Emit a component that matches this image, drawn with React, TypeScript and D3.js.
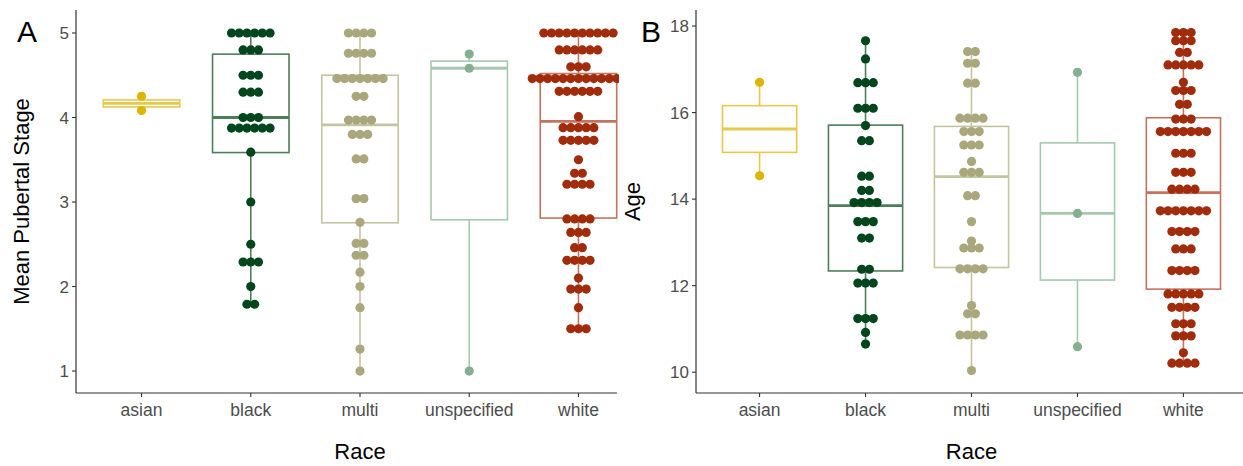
import React from "react";
import * as d3 from "d3";

// ---------- data ----------
const categories = ["asian", "black", "multi", "unspecified", "white"];

// Panel A: Mean Pubertal Stage (box statistics)
const stageLower = [4.083, 1.79, 1.0, 1.0, 1.5];
const stageQ1 = [4.125, 3.585, 2.754, 2.79, 2.81];
const stageMedian = [4.167, 4.0, 3.912, 4.583, 3.955];
const stageQ3 = [4.208, 4.75, 4.5, 4.667, 4.52];
const stageUpper = [4.25, 5.0, 5.0, 4.75, 5.0];

// Panel A: individual observations
const stageAsian = [4.25, 4.083];
const stageBlack = [
  5, 5, 5, 5, 5, 5, 4.8, 4.8, 4.8, 4.5, 4.5, 4.5, 4.3, 4.3, 4.3, 4.0, 4.0, 4.0,
  3.875, 3.875, 3.875, 3.875, 3.875, 3.875, 3.59, 3.0, 2.5, 2.29, 2.29, 2.29, 2.0, 1.79, 1.79,
];
const stageMulti = [
  5, 5, 5, 5, 4.76, 4.76, 4.76, 4.76, 4.46, 4.46, 4.46, 4.46, 4.46, 4.46, 4.46,
  4.25, 4.25, 3.97, 3.97, 3.97, 3.97, 3.8, 3.8, 3.8, 3.51, 3.51, 3.04, 3.04, 2.76,
  2.51, 2.51, 2.37, 2.37, 2.17, 2.0, 1.75, 1.26, 1.0,
];
const stageUnspecified = [4.75, 4.583, 1.0];
const stageWhite = [
  5, 5, 5, 5, 5, 5, 5, 5, 5, 5, 4.8, 4.8, 4.8, 4.8, 4.8, 4.8, 4.6, 4.6, 4.6,
  4.46, 4.46, 4.46, 4.46, 4.46, 4.46, 4.46, 4.46, 4.46, 4.46, 4.46, 4.46, 4.46,
  4.31, 4.31, 4.31, 4.31, 4.31, 4.31, 4.01, 3.88, 3.88, 3.88, 3.88, 3.88,
  3.73, 3.73, 3.73, 3.73, 3.73, 3.5, 3.34, 3.34, 3.21, 3.21, 3.21, 3.21,
  2.8, 2.8, 2.8, 2.8, 2.64, 2.64, 2.64, 2.46, 2.46, 2.31, 2.31, 2.31, 2.31,
  2.1, 1.97, 1.97, 1.97, 1.75, 1.5, 1.5, 1.5,
];

// Panel B: Age (box statistics)
const ageLower = [14.54, 10.63, 10.04, 10.59, 10.21];
const ageQ1 = [15.08, 12.34, 12.42, 12.13, 11.92];
const ageMedian = [15.62, 13.85, 14.52, 13.67, 14.15];
const ageQ3 = [16.16, 15.71, 15.68, 15.3, 15.88];
const ageUpper = [16.7, 17.67, 17.4, 16.93, 17.85];

// Panel B: individual observations
const ageAsian = [16.7, 14.54];
const ageBlack = [
  17.66, 17.24, 16.69, 16.69, 16.69, 16.1, 16.1, 16.1, 15.7, 15.35, 15.35,
  14.53, 14.53, 14.2, 14.2, 13.92, 13.92, 13.92, 13.92, 13.48, 13.48, 13.48,
  13.1, 13.1, 12.38, 12.38, 12.06, 12.06, 12.06, 11.24, 11.24, 11.24, 10.92, 10.65,
];
const ageMulti = [
  17.41, 17.41, 17.14, 17.14, 16.68, 16.68, 15.87, 15.87, 15.87, 15.87,
  15.56, 15.56, 15.56, 15.25, 15.25, 15.25, 14.87, 14.62, 14.62, 14.62,
  14.08, 14.08, 13.48, 13.03, 12.87, 12.87, 12.87, 12.39, 12.39, 12.39, 12.39,
  11.54, 11.35, 11.35, 10.86, 10.86, 10.86, 10.86, 10.04,
];
const ageUnspecified = [16.93, 13.67, 10.59];
const ageWhite = [
  17.85, 17.85, 17.85, 17.66, 17.66, 17.66, 17.39, 17.39, 17.1, 17.1, 17.1, 17.1, 17.1,
  16.7, 16.51, 16.51, 16.51, 16.19, 16.19, 15.85, 15.85, 15.85,
  15.56, 15.56, 15.56, 15.56, 15.56, 15.56, 15.56, 15.06, 15.06, 15.06,
  14.62, 14.62, 14.62, 14.23, 14.23, 14.23, 14.23,
  13.73, 13.73, 13.73, 13.73, 13.73, 13.73, 13.73, 13.25, 13.25, 13.25, 13.25,
  12.85, 12.85, 12.85, 12.35, 12.35, 12.35, 12.35, 11.81, 11.81, 11.81, 11.81, 11.81,
  11.5, 11.5, 11.5, 11.5, 11.12, 11.12, 11.12, 10.84, 10.84, 10.84, 10.45,
  10.21, 10.21, 10.21, 10.21,
];

const stageTicks = [1, 2, 3, 4, 5];
const ageTicks = [10, 12, 14, 16, 18];

// ---------- styles ----------
const dotColors = ["#DDB400", "#00461C", "#A9A77B", "#84AF91", "#A02C0C"];
const boxColors = ["#E8C84A", "#4F7D5C", "#C5C4A0", "#A6C8B0", "#C4735F"];
const FONT = "'Liberation Sans', Arial, sans-serif";

type PanelProps = {
  id: string;
  letter: string;
  letterX: number;
  axisX: number;
  axisRight: number;
  rangeRight: number;
  yDomain: [number, number];
  ticks: number[];
  yLabel: string;
  yLabelX: number;
  lower: number[];
  q1: number[];
  med: number[];
  q3: number[];
  upper: number[];
  dots: number[][];
  clipRight: number;
};

const TOP = 10;
const BOTTOM = 393;
const R = 4.6;
const STEP = 7.7;

function Panel(p: PanelProps) {
  const x = d3.scalePoint<string>().domain(categories).range([p.axisX, p.rangeRight]).padding(0.6);
  const y = d3.scaleLinear().domain(p.yDomain).range([BOTTOM, TOP]);
  const boxW = x.step() * 0.7;
  const clipId = `clip-${p.id}`;
  return (
    <g>
      <defs>
        <clipPath id={clipId}>
          <rect x={p.axisX} y={0} width={p.clipRight - p.axisX} height={BOTTOM} />
        </clipPath>
      </defs>
      <g clipPath={`url(#${clipId})`}>
        {categories.map((c, i) => {
          const cx = x(c)!;
          const col = boxColors[i];
          return (
            <g key={c}>
              <line x1={cx} x2={cx} y1={y(p.q3[i])} y2={y(p.upper[i])} stroke={col} strokeWidth={1.6} />
              <line x1={cx} x2={cx} y1={y(p.q1[i])} y2={y(p.lower[i])} stroke={col} strokeWidth={1.6} />
              <rect
                x={cx - boxW / 2}
                y={y(p.q3[i])}
                width={boxW}
                height={y(p.q1[i]) - y(p.q3[i])}
                fill="white"
                stroke={col}
                strokeWidth={1.6}
              />
              <line x1={cx - boxW / 2} x2={cx + boxW / 2} y1={y(p.med[i])} y2={y(p.med[i])} stroke={col} strokeWidth={2.8} />
            </g>
          );
        })}
        {categories.map((c, i) => {
          const cx = x(c)!;
          const groups = d3.groups(p.dots[i], (v) => v);
          return (
            <g key={c + "-dots"} fill={dotColors[i]}>
              {groups.flatMap(([v, arr]) =>
                arr.map((_, k) => (
                  <circle key={`${v}-${k}`} cx={cx + (k - (arr.length - 1) / 2) * STEP} cy={y(v)} r={R} />
                ))
              )}
            </g>
          );
        })}
      </g>
      {/* axes */}
      <line x1={p.axisX} x2={p.axisX} y1={TOP} y2={BOTTOM} stroke="#333" strokeWidth={1.2} />
      <line x1={p.axisX} x2={p.axisRight} y1={BOTTOM} y2={BOTTOM} stroke="#333" strokeWidth={1.2} />
      {p.ticks.map((t) => (
        <g key={t}>
          <line x1={p.axisX - 4} x2={p.axisX} y1={y(t)} y2={y(t)} stroke="#333" strokeWidth={1.1} />
          <text x={p.axisX - 7} y={y(t)} dy="0.36em" textAnchor="end" fontSize={17} fill="#4D4D4D" fontFamily={FONT}>
            {t}
          </text>
        </g>
      ))}
      {categories.map((c) => (
        <g key={c + "-tick"}>
          <line x1={x(c)} x2={x(c)} y1={BOTTOM} y2={BOTTOM + 4} stroke="#333" strokeWidth={1.1} />
          <text x={x(c)} y={416} textAnchor="middle" fontSize={17.5} fill="#4D4D4D" fontFamily={FONT}>
            {c}
          </text>
        </g>
      ))}
      <text x={x("multi")} y={459} textAnchor="middle" fontSize={22} fill="#000" fontFamily={FONT}>
        Race
      </text>
      <text
        transform={`translate(${p.yLabelX},${(TOP + BOTTOM) / 2}) rotate(-90)`}
        textAnchor="middle"
        fontSize={22}
        fill="#000"
        fontFamily={FONT}
      >
        {p.yLabel}
      </text>
      <text x={p.letterX} y={42} fontSize={30} fill="#000" fontFamily={FONT}>
        {p.letter}
      </text>
    </g>
  );
}

export default function App() {
  return (
    <svg
      width={1243}
      height={466}
      style={{ position: "absolute", left: 0, top: 0, background: "white" }}
    >
      <rect width={1243} height={466} fill="white" />
      <Panel
        id="a"
        letter="A"
        letterX={17}
        axisX={76}
        axisRight={617}
        rangeRight={644}
        clipRight={619}
        yDomain={[0.74, 5.272]}
        ticks={stageTicks}
        yLabel="Mean Pubertal Stage"
        yLabelX={29}
        lower={stageLower}
        q1={stageQ1}
        med={stageMedian}
        q3={stageQ3}
        upper={stageUpper}
        dots={[stageAsian, stageBlack, stageMulti, stageUnspecified, stageWhite]}
      />
      <Panel
        id="b"
        letter="B"
        letterX={641}
        axisX={696}
        axisRight={1243}
        rangeRight={1247}
        clipRight={1243}
        yDomain={[9.52, 18.37]}
        ticks={ageTicks}
        yLabel="Age"
        yLabelX={640}
        lower={ageLower}
        q1={ageQ1}
        med={ageMedian}
        q3={ageQ3}
        upper={ageUpper}
        dots={[ageAsian, ageBlack, ageMulti, ageUnspecified, ageWhite]}
      />
    </svg>
  );
}
